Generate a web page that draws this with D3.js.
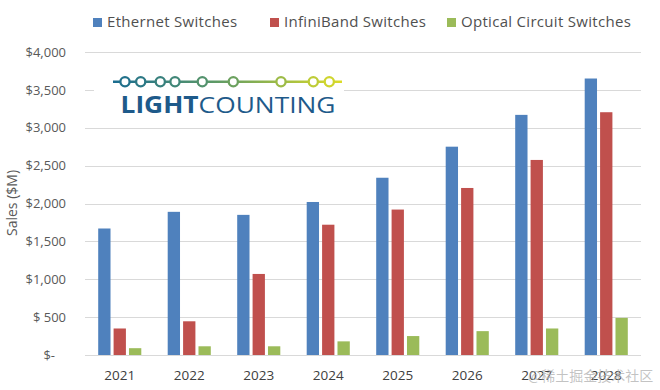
<!DOCTYPE html>
<html>
<head>
<meta charset="utf-8">
<script src="https://cdn.jsdelivr.net/npm/d3@7"></script>
<style>
  html, body { margin: 0; padding: 0; background: #fff; }
  svg { display: block; font-family: "Open Sans", "DejaVu Sans", sans-serif; }
</style>
</head>
<body>
<div id="chart"></div>
<script>
// data ($M)
var years = ['2021', '2022', '2023', '2024', '2025', '2026', '2027', '2028'];
var seriesNames = ['Ethernet Switches', 'InfiniBand Switches', 'Optical Circuit Switches'];
var ethernet = [1670, 1890, 1850, 2020, 2340, 2750, 3170, 3650];
var infiniband = [350, 445, 1070, 1720, 1920, 2205, 2575, 3205];
var optical = [90, 115, 115, 180, 250, 315, 350, 490];
var yTicks = [0, 500, 1000, 1500, 2000, 2500, 3000, 3500, 4000];
var yTickLabels = ['$-', '$ 500', '$1,000', '$1,500', '$2,000', '$2,500', '$3,000', '$3,500', '$4,000'];
var colors = ['#4f81bd', '#c0504d', '#9bbb59'];

var width = 660, height = 390;
var margin = {top: 52, right: 19, bottom: 35, left: 85};

var svg = d3.select('#chart').append('svg')
    .attr('width', width)
    .attr('height', height);

var x0 = d3.scaleBand()
    .domain(years)
    .range([margin.left, width - margin.right])
    .paddingInner(0.38)
    .paddingOuter(0.19);

var x1 = d3.scaleBand()
    .domain(d3.range(seriesNames.length))
    .range([0, x0.bandwidth()])
    .paddingInner(0.2);

var y = d3.scaleLinear()
    .domain([0, 4000])
    .range([height - margin.bottom, margin.top]);

// gridlines
svg.append('g')
    .selectAll('line')
    .data(yTicks)
    .enter()
    .append('line')
    .attr('x1', margin.left)
    .attr('x2', width - margin.right)
    .attr('y1', function(d) { return Math.round(y(d)) + 0.5; })
    .attr('y2', function(d) { return Math.round(y(d)) + 0.5; })
    .attr('stroke', '#d9d9d9')
    .attr('stroke-width', 1.2);

// y tick labels
var yAxis = svg.append('g')
    .attr('transform', 'translate(' + (margin.left - 16) + ',0)')
    .call(d3.axisLeft(y).tickValues(yTicks).tickSize(0)
        .tickFormat(function(d, i) { return yTickLabels[i]; }));
yAxis.select('.domain').remove();
yAxis.selectAll('text')
    .attr('fill', '#595959')
    .style('font-size', '13px')
    .style('font-family', '"Open Sans", sans-serif')
    .attr('dx', function(d) { return d === 0 ? -11 : 0; })
    .style('white-space', 'pre');

// y title
svg.append('text')
    .attr('transform', 'translate(17,' + 203 + ') rotate(-90)')
    .attr('text-anchor', 'middle')
    .attr('fill', '#595959')
    .style('font-size', '14px')
    .text('Sales ($M)');

// bars
var rows = years.map(function(yr, i) {
  return {year: yr, values: [ethernet[i], infiniband[i], optical[i]]};
});

var groups = svg.append('g')
    .selectAll('g')
    .data(rows)
    .enter()
    .append('g')
    .attr('transform', function(d) { return 'translate(' + x0(d.year) + ',0)'; });

groups.selectAll('rect')
    .data(function(d) { return d.values; })
    .enter()
    .append('rect')
    .attr('x', function(d, i) { return x1(i); })
    .attr('y', function(d) { return y(d); })
    .attr('width', x1.bandwidth())
    .attr('height', function(d) { return y(0) - y(d); })
    .attr('fill', function(d, i) { return colors[i]; });

// x labels
var xAxis = svg.append('g')
    .attr('transform', 'translate(0,' + (height - margin.bottom) + ')')
    .call(d3.axisBottom(x0).tickSize(0).tickPadding(15));
xAxis.select('.domain').remove();
xAxis.selectAll('text')
    .attr('fill', '#404040')
    .style('font-size', '13.5px')
    .style('font-family', '"Open Sans", sans-serif');

// legend
var legendX = [93, 270, 447];
var legend = svg.append('g')
    .selectAll('g')
    .data(seriesNames)
    .enter()
    .append('g')
    .attr('transform', function(d, i) { return 'translate(' + legendX[i] + ',22)'; });
legend.append('rect')
    .attr('x', 0).attr('y', -4)
    .attr('width', 9).attr('height', 9)
    .attr('fill', function(d, i) { return colors[i]; });
legend.append('text')
    .attr('x', 14)
    .attr('dy', '0.35em')
    .attr('fill', '#505050')
    .style('font-size', '15px')
    .style('letter-spacing', '0.3px')
    .text(function(d) { return d; });

// LightCounting logo
var defs = svg.append('defs');
var grad = defs.append('linearGradient')
    .attr('id', 'lcgrad')
    .attr('gradientUnits', 'userSpaceOnUse')
    .attr('x1', 113).attr('x2', 342).attr('y1', 0).attr('y2', 0);
grad.append('stop').attr('offset', '0%').attr('stop-color', '#1a6c90');
grad.append('stop').attr('offset', '45%').attr('stop-color', '#5e9a66');
grad.append('stop').attr('offset', '100%').attr('stop-color', '#dcdc28');

var logo = svg.append('g');
logo.append('rect')
    .attr('x', 94).attr('y', 70).attr('width', 250).attr('height', 50)
    .attr('fill', '#fff');
logo.append('line')
    .attr('x1', 113).attr('x2', 342).attr('y1', 81.7).attr('y2', 81.7)
    .attr('stroke', 'url(#lcgrad)').attr('stroke-width', 2.5);
var dotX = [125, 140.7, 160.3, 175, 202.3, 233.3, 281, 313.3, 329.3];
var dotColor = d3.scaleLinear()
    .domain([113, 220, 342])
    .range(['#1a6c90', '#5e9a66', '#dcdc28']);
logo.selectAll('circle')
    .data(dotX)
    .enter()
    .append('circle')
    .attr('cx', function(d) { return d; })
    .attr('cy', 81.7)
    .attr('r', 4.6)
    .attr('fill', '#fff')
    .attr('stroke', function(d) { return dotColor(d); })
    .attr('stroke-width', 2.3);
var lt = logo.append('text')
    .attr('x', 120.5).attr('y', 112.7)
    .attr('fill', '#1e5a8a')
    .attr('textLength', 215)
    .attr('lengthAdjust', 'spacingAndGlyphs')
    .style('font-size', '22.5px')
    .style('font-family', '"Open Sans", sans-serif');
lt.append('tspan').style('font-weight', 700).text('LIGHT');
lt.append('tspan').style('font-weight', 400).text('COUNTING');

// watermark (overlaps the last year labels, as in the source image)
svg.append('text')
    .attr('x', 528).attr('y', 381)
    .attr('fill', '#b0b0b0')
    .attr('fill-opacity', 0.75)
    .style('font-size', '14px')
    .style('font-family', '"Noto Sans CJK SC", sans-serif')
    .text('@稀土掘金技术社区');
</script>
</body>
</html>
